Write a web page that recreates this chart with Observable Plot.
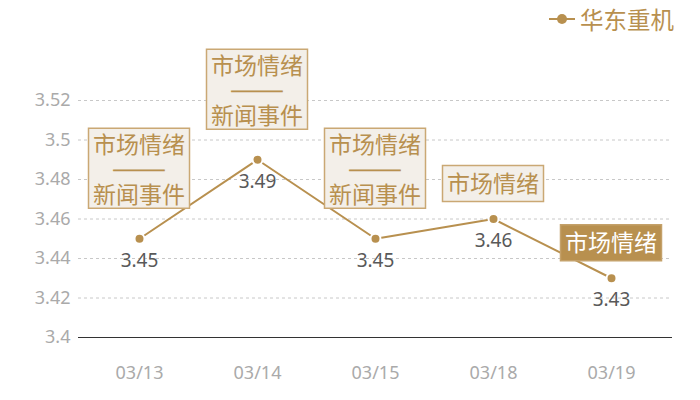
<!DOCTYPE html>
<html>
<head>
<meta charset="utf-8">
<script src="https://cdn.jsdelivr.net/npm/d3@7"></script>
<script src="https://cdn.jsdelivr.net/npm/@observablehq/plot@0.6"></script>
<style>
  html, body { margin: 0; padding: 0; background: #fff; }
  #wrap { position: relative; width: 700px; height: 400px; font-family: "Noto Sans", "Noto Sans CJK SC", sans-serif; }
  #legend { position: absolute; top: 2px; left: 549px; display: flex; align-items: center; color: #b8904f; font-size: 23.5px; font-family: "Noto Sans CJK SC", sans-serif; }
  #legend span { margin-left: 5px; }
</style>
</head>
<body>
<div id="wrap">
  <div id="legend"></div>
</div>
<script>
const dates = ["03/13", "03/14", "03/15", "03/18", "03/19"];
const prices = [3.45, 3.49, 3.45, 3.46, 3.43];
const tags = [
  ["市场情绪", "新闻事件"],
  ["市场情绪", "新闻事件"],
  ["市场情绪", "新闻事件"],
  ["市场情绪"],
  ["市场情绪"]
];
const highlighted = [false, false, false, false, true];
const yTicks = [3.4, 3.42, 3.44, 3.46, 3.48, 3.5, 3.52];
const seriesName = "华东重机";

const gold = "#b8904f";
const data = dates.map((d, i) => ({date: d, value: prices[i]}));

const plot = Plot.plot({
  width: 700,
  height: 400,
  marginTop: 100,
  marginBottom: 63,
  marginLeft: 78,
  marginRight: 28,
  style: {fontFamily: "'Noto Sans', 'Noto Sans CJK SC', sans-serif", overflow: "visible", background: "transparent"},
  x: {type: "point", domain: dates, padding: 0.5, label: null, tickSize: 0, tickPadding: 29},
  y: {domain: [3.4, 3.52], ticks: yTicks, tickFormat: d => String(d), label: null, tickSize: 0, tickPadding: 8},
  marks: [
    Plot.ruleY(yTicks.filter(t => t !== 3.4), {stroke: "#c8c8c8", strokeDasharray: "3,3", strokeWidth: 1, strokeOpacity: 1}),
    Plot.ruleY([3.4], {stroke: "#333", strokeWidth: 1.2}),
    Plot.line(data, {x: "date", y: "value", stroke: gold, strokeWidth: 2}),
    Plot.dot(data, {x: "date", y: "value", r: 5, fill: gold, stroke: "#fff", strokeWidth: 2}),
    Plot.text(data, {x: "date", y: "value", text: d => String(d.value), dy: 22, fill: "#595959", fontSize: 19})
  ]
});

d3.select(plot).selectAll("[aria-label='x-axis tick label'], [aria-label='y-axis tick label']")
  .attr("font-size", 18).attr("fill", "#aaa");

document.getElementById("wrap").appendChild(plot);

// annotation boxes, positioned through the plot's own scales
const sx = plot.scale("x"), sy = plot.scale("y");
const ann = d3.select(plot).append("g").attr("font-family", "'Noto Sans CJK SC', sans-serif");
dates.forEach((d, i) => {
  const cx = sx.apply(d), cy = sy.apply(prices[i]);
  const two = tags[i].length === 2;
  const h = two ? 80 : 36;
  const gap = two ? 30 : 17;
  const w = 101;
  const top = cy - gap - h;
  const g = ann.append("g");
  g.append("rect")
    .attr("x", cx - w / 2).attr("y", top).attr("width", w).attr("height", h)
    .attr("fill", highlighted[i] ? gold : "#f3efe9")
    .attr("stroke", highlighted[i] ? "#c4a16a" : "#caa874").attr("stroke-width", 1.5);
  const color = highlighted[i] ? "#fff" : gold;
  const lines = two ? [[tags[i][0], 16], ["——", 42], [tags[i][1], 66]] : [[tags[i][0], h / 2]];
  lines.forEach(([t, off]) => {
    const txt = g.append("text")
      .attr("x", cx).attr("y", top + off).attr("dy", "0.36em")
      .attr("text-anchor", "middle").attr("fill", color).attr("font-size", 23).text(t);
    if (t === "——") {
      txt.attr("font-size", 10).attr("dy", "0.3em").attr("textLength", 51).attr("lengthAdjust", "spacingAndGlyphs")
        .attr("stroke", color).attr("stroke-width", 1.2);
    }
  });
});

// legend
const leg = d3.select("#legend");
const ls = leg.append("svg").attr("width", 26).attr("height", 14);
ls.append("line").attr("x1", 0).attr("x2", 26).attr("y1", 7).attr("y2", 7).attr("stroke", gold).attr("stroke-width", 2);
ls.append("circle").attr("cx", 13).attr("cy", 7).attr("r", 5).attr("fill", gold);
leg.append("span").text(seriesName);
</script>
</body>
</html>
